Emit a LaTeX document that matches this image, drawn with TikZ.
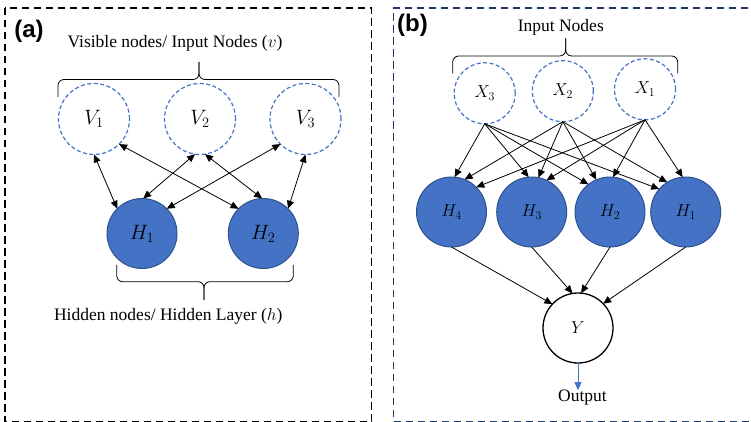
\documentclass[tikz,border=0pt]{standalone}
\usepackage{fontspec}
\setmainfont{Liberation Serif}
\newfontfamily\panelfont{Liberation Sans}
\usetikzlibrary{arrows.meta}
\definecolor{nodeblue}{HTML}{4472C4}
\definecolor{nodeedge}{HTML}{2F528F}
\definecolor{boxnavy}{HTML}{203864}

\begin{document}
\begin{tikzpicture}[x=1pt, y=-1pt,
		inputnode/.style={circle, draw=nodeblue, line width=1.2pt, dash pattern=on 4pt off 2.5pt, inner sep=0pt, outer sep=0pt},
		hiddennode/.style={circle, draw=nodeedge, fill=nodeblue, line width=1pt, minimum size=70pt, inner sep=0pt, outer sep=0pt},
		outnode/.style={circle, draw, line width=1.3pt, minimum size=70pt, inner sep=0pt, outer sep=0pt},
		panelbox/.style={line width=1.3pt, dash pattern=on 7.5pt off 4.5pt},
		brace/.style={line width=0.8pt, rounded corners=6pt},
		link/.style={line width=0.8pt, >={Triangle[length=8pt, width=7pt]}, ->},
		caption/.style={inner sep=0pt, font=\fontsize{17.5}{20}\selectfont},
		tag/.style={inner sep=0pt, font=\panelfont\bfseries\fontsize{24}{26}\selectfont}
	]
		\useasboundingbox (0, 0) rectangle (751, 422);
		\draw[panelbox] (5, 8) rectangle (371.7, 421.5);
		\draw[panelbox, boxnavy] (760, 8) -| (393.5, 421.5) -- (760, 421.5);
		\node[tag] (taga) at (29, 31.5) {(a)};
		\node[tag] (tagb) at (412.5, 25.7) {(b)};
		% (a)
		\foreach \n/\x in {1/94, 2/200, 3/305.5} {
			\node[inputnode, minimum size=71pt, font=\fontsize{21}{21}\selectfont] (v\n) at (\x, 119) {$V_\n$};
		}
		\foreach \n/\x in {1/142, 2/263.3} {
			\node[hiddennode, font=\fontsize{21}{21}\selectfont] (ha\n) at (\x, 233.5) {$H_\n$};
		}
		\foreach \a/\b in {v1.south/ha1.135, v1.-45/ha2.135, v2.-98/ha1.88, v2.-82/ha2.92, v3.-135/ha1.45, v3.south/ha2.45} {
			\draw[link, <->] (\a) -- (\b);
		}
		\draw[brace] (58, 97) |- (199, 79.5) -- (199, 62);
		\draw[brace] (339, 97) |- (199, 79.5) -- (199, 62);
		\draw[brace] (116.7, 265) |- (204, 281.7) -- (204, 300);
		\draw[brace] (293.3, 265) |- (204, 281.7) -- (204, 300);
		\node[caption] (vislabel) at (175, 43) {Visible nodes/ Input Nodes ($v$)};
		\node[caption] (hidlabel) at (168.3, 316.7) {Hidden nodes/ Hidden Layer ($h$)};
		% (b)
		\foreach \n/\x/\y in {3/484.7/93.3, 2/562.8/91.2, 1/645/89.3} {
			\node[inputnode, minimum size=61pt, font=\fontsize{17}{17}\selectfont] (x\n) at (\x, \y) {$X_\n$};
		}
		\foreach \n/\x in {4/451.5, 3/531.7, 2/610, 1/685.7} {
			\node[hiddennode, font=\fontsize{17}{17}\selectfont] (hb\n) at (\x, 212) {$H_\n$};
		}
		\node[outnode, font=\fontsize{17}{17}\selectfont] (y) at (578, 328) {$Y$};
		\foreach \s/\t in {x3/hb4.85, x3/hb3.95, x3/hb2.128, x3/hb1.139,
			x2/hb4.68, x2/hb3.79, x2/hb2.113, x2/hb1.122,
			x1/hb4.45, x1/hb3.65, x1/hb2.85, x1/hb1.95} {
			\draw[link] (\s.south) -- (\t);
		}
		\foreach \s/\a in {hb4/137, hb3/99, hb2/85, hb1/44} {
			\draw[link] (\s.south) -- (y.\a);
		}
		\draw[brace] (452.7, 73.3) |- (565.7, 56) -- (565.7, 38.3);
		\draw[brace] (677.7, 73.3) |- (565.7, 56) -- (565.7, 38.3);
		\node[caption] (inlabel) at (560.8, 27.5) {Input Nodes};
		\node[caption] (out) at (582.5, 398) {Output};
		\draw[nodeblue, line width=1pt, -{Triangle[length=8pt, width=7pt]}] (y.south) -- (y.south |- out.north);
	\end{tikzpicture}
\end{document}
